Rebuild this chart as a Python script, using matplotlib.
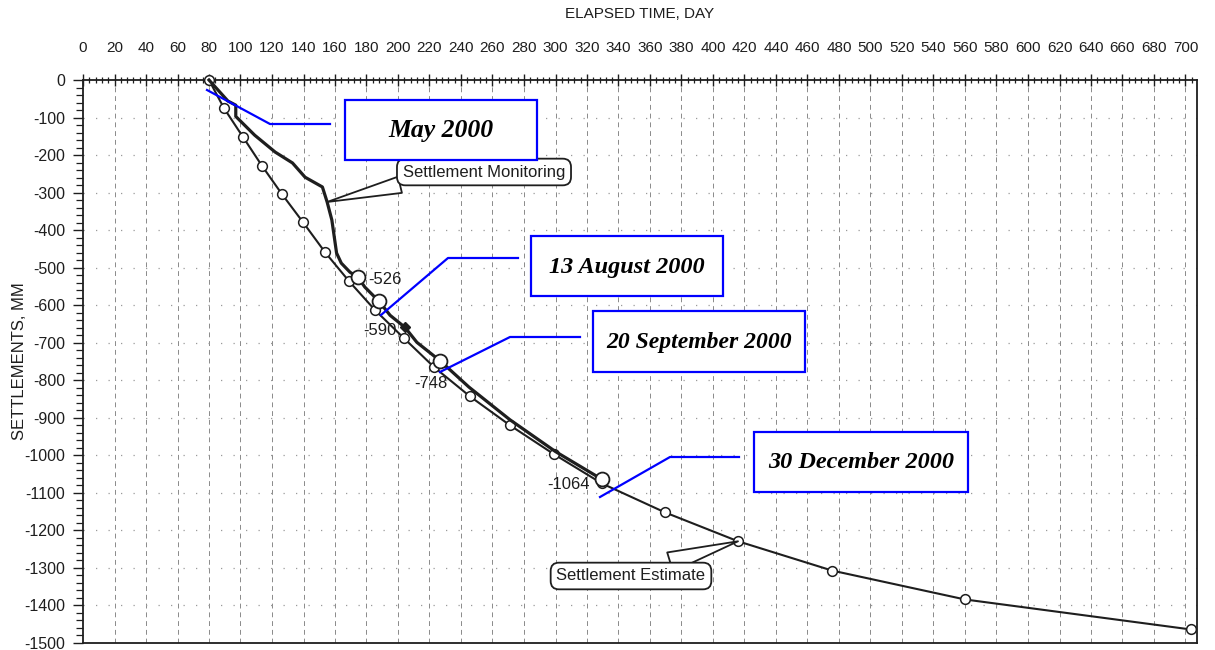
import matplotlib
matplotlib.use('Agg')
import matplotlib.pyplot as plt
from matplotlib.ticker import MultipleLocator, FixedLocator
from matplotlib.patches import Rectangle
from matplotlib.lines import Line2D

# ---- data ----
est_days = [80, 89.5, 101.6, 113.7, 126.3, 139.7, 153.7, 168.9, 185.4, 203.8,
            222.9, 245.7, 271.1, 299.0, 329.5, 369.5, 415.9, 475.6, 560.0, 703.5]
est_settle = [0, -75, -152, -229, -304, -379, -459, -536, -613, -688,
              -765, -843, -920, -997, -1075, -1152, -1229, -1307, -1384, -1464]

mon_days = [80, 92, 97, 97, 109, 122, 133, 141, 152, 155, 158, 161, 164,
            169.5, 174.6, 179, 188, 195, 204.4, 212, 226.7, 245, 271, 300, 329.5]
mon_settle = [0, -56, -67, -97, -147, -192, -221, -259, -285, -325, -373, -461, -488,
              -512, -526, -552, -590, -627, -659, -699, -748, -818, -905, -990, -1064]

key_days = [174.6, 188, 226.7, 329.5]
key_settle = [-526, -590, -748, -1064]
key_labels = ['-526', '-590', '-748', '-1064']
key_label_pos = [(191.7, -531), (188.6, -667), (221, -808), (308, -1077)]

diamond_day = [204.4]
diamond_settle = [-659]

x_ticks = list(range(0, 701, 20))
y_ticks = list(range(-1500, 1, 100))

date_labels = ['May 2000', '13 August 2000', '20 September 2000', '30 December 2000']

SANS = ['Liberation Sans Narrow', 'Liberation Sans', 'DejaVu Sans']
INK = '#1e1e1e'

W, H = 1215, 650
fig = plt.figure(figsize=(W / 100, H / 100), dpi=100)
L, R, T, B = 83, 1197, 80, 643
ax = fig.add_axes([L / W, 1 - B / H, (R - L) / W, (B - T) / H])

ax.set_xlim(0, (R - L) / 1.575)
ax.set_ylim(-1500, 0)

# grid
for xv in x_ticks[1:]:
    ax.axvline(xv, color='#8a8a8a', lw=0.7, ls=(0, (5, 4)), zorder=0)
for yv in y_ticks[1:-1]:
    ax.axhline(yv, color='#9a9a9a', lw=0.9, ls=(0, (1, 9)), zorder=0)

# estimate line
ax.plot(est_days, est_settle, color=INK, lw=1.5, marker='o', ms=7,
        mfc='white', mec=INK, mew=1.1, zorder=3, clip_on=False)
# monitoring line
ax.plot(mon_days, mon_settle, color=INK, lw=2.3, zorder=4, clip_on=False)
ax.plot(key_days, key_settle, ls='none', marker='o', ms=10, mfc='white',
        mec=INK, mew=1.3, zorder=5)
ax.plot(diamond_day, diamond_settle, ls='none', marker='D', ms=5, color=INK, zorder=5)

for lab, (xx, yy) in zip(key_labels, key_label_pos):
    ax.text(xx, yy, lab, ha='center', va='center', fontsize=12, family=SANS,
            color=INK, zorder=6)

# axes styling
ax.xaxis.tick_top()
ax.xaxis.set_major_locator(FixedLocator(x_ticks))
ax.xaxis.set_minor_locator(MultipleLocator(4))
ax.yaxis.set_major_locator(FixedLocator(y_ticks))
ax.yaxis.set_minor_locator(MultipleLocator(20))
ax.set_xticklabels([str(v) for v in x_ticks])
ax.set_yticklabels([str(v) for v in y_ticks])
ax.tick_params(axis='x', which='major', direction='inout', length=8, width=1.0, pad=14,
               labelsize=11, colors=INK)
ax.tick_params(axis='x', which='minor', direction='inout', length=5, width=0.9,
               colors=INK)
ax.tick_params(axis='y', which='major', direction='out', length=7, width=1.0, pad=6,
               labelsize=11.5, colors=INK)
ax.tick_params(axis='y', which='minor', direction='out', length=5, width=0.9,
               colors=INK)
for lab in ax.get_xticklabels() + ax.get_yticklabels():
    lab.set_family(SANS)
for sp in ax.spines.values():
    sp.set_color(INK)
    sp.set_linewidth(1.3)

fig.text(640 / W, 1 - 14 / H, 'ELAPSED TIME, DAY', ha='center', va='center',
         fontsize=11, family=SANS, color=INK)
fig.text(20 / W, 1 - 361 / H, 'SETTLEMENTS, MM', ha='center', va='center',
         rotation=90, fontsize=12, family=SANS, color=INK)

# callouts
def fpx(x, y):
    return (x, H - y)

ax.annotate('Settlement Monitoring', xy=(155, -325), xycoords='data',
            xytext=fpx(484, 172), textcoords='figure pixels',
            ha='center', va='center', fontsize=12, family=SANS, color=INK,
            bbox=dict(boxstyle='round,pad=0.35,rounding_size=0.5', fc='white',
                      ec=INK, lw=1.3),
            arrowprops=dict(arrowstyle='wedge,tail_width=1.0,shrink_factor=0.5',
                            fc='white', ec=INK, lw=1.3, relpos=(0.12, 0.0),
                            shrinkA=0, shrinkB=0),
            zorder=7)
ax.annotate('Settlement Estimate', xy=(415.9, -1229), xycoords='data',
            xytext=fpx(631, 576), textcoords='figure pixels',
            ha='center', va='center', fontsize=12, family=SANS, color=INK,
            bbox=dict(boxstyle='round,pad=0.35,rounding_size=0.5', fc='white',
                      ec=INK, lw=1.3),
            arrowprops=dict(arrowstyle='wedge,tail_width=1.2,shrink_factor=0.5',
                            fc='white', ec=INK, lw=1.3, relpos=(0.62, 1.0),
                            shrinkA=0, shrinkB=0),
            zorder=7)

# blue overlay annotations (figure pixel layout)
boxes = [(345, 100, 537, 160), (531, 236, 723, 296), (593, 311, 805, 372), (754, 432, 968, 492)]
leaders = [[(207, 90), (270, 124), (330, 124)],
           [(381, 315), (448, 258), (518, 258)],
           [(440, 372), (510, 337), (580, 337)],
           [(600, 497), (670, 457), (739, 457)]]
blue_sizes = [18.5, 17.5, 17, 17.5]
for (x0, y0, x1, y1), lab, pts, fs in zip(boxes, date_labels, leaders, blue_sizes):
    rect = Rectangle((x0 / W, 1 - y1 / H), (x1 - x0) / W, (y1 - y0) / H,
                     transform=fig.transFigure, fc='white', ec='#0000ff', lw=1.6, zorder=10)
    fig.add_artist(rect)
    fig.text((x0 + x1) / 2 / W, 1 - ((y0 + y1) / 2 + 1) / H, lab, ha='center', va='center',
             fontsize=fs, family=['Liberation Serif', 'DejaVu Serif'], style='italic',
             weight='bold', color='black', zorder=11)
    ln = Line2D([p[0] / W for p in pts], [1 - p[1] / H for p in pts],
                transform=fig.transFigure, color='#0000ff', lw=1.6, zorder=10)
    fig.add_artist(ln)

fig.savefig('out.png', dpi=100)
